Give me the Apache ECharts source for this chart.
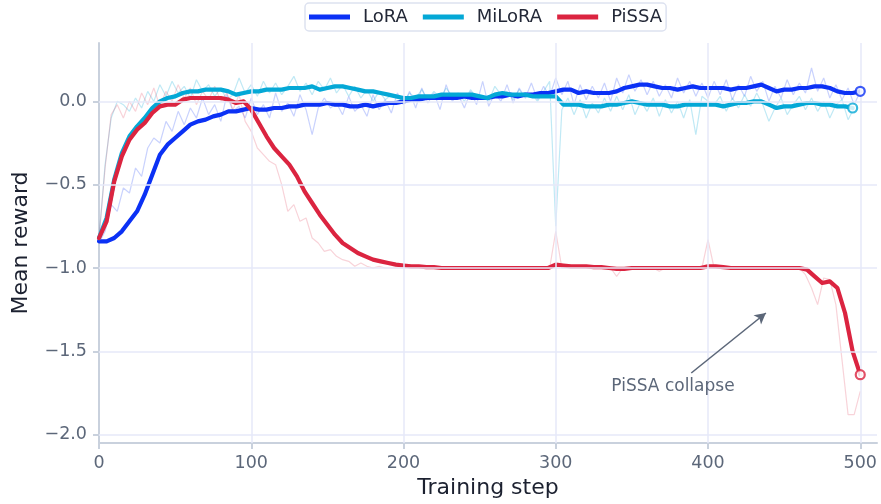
<!DOCTYPE html>
<html><head><meta charset="utf-8">
<script src="https://cdn.jsdelivr.net/npm/echarts@6/dist/echarts.min.js"></script>
<style>html,body{margin:0;padding:0;background:#fff}#c{width:881px;height:504px}</style>
</head><body><div id="c"></div>
<script>
// ---- data ----
const smoothStep = 5;   // smoothed curves sampled every 5 steps
const rawStep = 4;      // raw curves sampled every 4 steps
const seriesNames = ['LoRA', 'MiLoRA', 'PiSSA'];

const loraSmooth = [
 -0.84,-0.84,-0.82,-0.78,-0.72,-0.66,-0.56,-0.44,-0.32,-0.26,
 -0.22,-0.18,-0.14,-0.12,-0.11,-0.09,-0.08,-0.06,-0.06,-0.05,
 -0.04,-0.05,-0.05,-0.04,-0.04,-0.03,-0.03,-0.02,-0.02,-0.02,
 -0.01,-0.02,-0.02,-0.03,-0.03,-0.02,-0.03,-0.02,-0.01,-0.01,
 0.00,0.01,0.01,0.02,0.02,0.02,0.02,0.02,0.03,0.02,
 0.02,0.02,0.03,0.03,0.04,0.03,0.04,0.04,0.05,0.05,
 0.06,0.07,0.07,0.05,0.06,0.05,0.05,0.05,0.06,0.08,
 0.09,0.10,0.10,0.09,0.08,0.08,0.07,0.08,0.09,0.08,
 0.08,0.08,0.08,0.07,0.08,0.08,0.09,0.10,0.08,0.06,
 0.07,0.07,0.08,0.08,0.09,0.09,0.08,0.06,0.05,0.05,
 0.06];

const miloraSmooth = [
 -0.82,-0.70,-0.47,-0.31,-0.21,-0.15,-0.10,-0.04,0.00,0.02,
 0.03,0.05,0.06,0.06,0.07,0.07,0.07,0.06,0.04,0.05,
 0.06,0.06,0.07,0.07,0.07,0.08,0.08,0.08,0.09,0.07,
 0.08,0.09,0.09,0.08,0.07,0.06,0.06,0.05,0.04,0.03,
 0.02,0.02,0.03,0.03,0.03,0.04,0.04,0.04,0.04,0.04,
 0.03,0.02,0.04,0.05,0.04,0.04,0.04,0.03,0.03,0.03,
 0.03,-0.02,-0.02,-0.02,-0.03,-0.03,-0.03,-0.02,-0.02,-0.01,
 0.00,-0.01,-0.02,-0.02,-0.02,-0.03,-0.03,-0.02,-0.02,-0.02,
 -0.02,-0.02,-0.03,-0.02,-0.01,-0.01,0.00,0.00,-0.02,-0.04,
 -0.03,-0.03,-0.02,-0.01,-0.01,-0.02,-0.02,-0.03,-0.03,-0.04];

const pissaSmooth = [
 -0.82,-0.72,-0.48,-0.33,-0.23,-0.17,-0.13,-0.07,-0.03,-0.02,
 -0.02,0.01,0.02,0.02,0.02,0.02,0.02,0.01,-0.01,0.00,
 -0.05,-0.13,-0.21,-0.28,-0.33,-0.38,-0.45,-0.54,-0.61,-0.68,
 -0.74,-0.80,-0.85,-0.88,-0.91,-0.93,-0.95,-0.96,-0.97,-0.98,
 -0.985,-0.99,-0.99,
 -0.995,-0.995,-1.00,-1.00,-1.00,-1.00,-1.00,-1.00,-1.00,-1.00,
 -1.00,-1.00,-1.00,-1.00,-1.00,-1.00,-1.00,
 -0.98,-0.985,-0.99,-0.99,-0.99,-0.995,-0.995,-1.00,-1.005,-1.005,
 -1.00,-1.00,-1.00,-1.00,-1.00,-1.00,-1.00,-1.00,-1.00,-1.00,
 -0.99,-0.99,-0.995,
 -1.00,-1.00,-1.00,-1.00,-1.00,-1.00,-1.00,-1.00,-1.00,-1.00,
 -1.01,-1.05,-1.09,-1.08,-1.12,-1.27,-1.50,-1.64];

const loraRaw = [
 -0.85,-0.78,-0.62,-0.66,-0.52,-0.55,-0.40,-0.45,-0.28,-0.22,
 -0.25,-0.12,-0.18,-0.06,-0.14,-0.04,-0.10,0.02,-0.08,-0.02,
 -0.12,0.04,-0.06,-0.03,-0.10,0.02,-0.08,-0.02,-0.10,0.05,
 -0.06,-0.01,-0.09,0.04,-0.05,-0.20,-0.04,0.02,-0.04,-0.01,
 -0.08,0.03,-0.06,-0.02,-0.09,0.04,-0.05,0.01,-0.07,0.05,
 -0.02,0.06,-0.04,0.08,-0.01,0.05,-0.05,0.10,0.00,0.04,
 -0.04,0.06,-0.02,0.12,-0.03,0.05,0.00,0.10,-0.01,0.08,
 0.02,0.11,0.01,0.09,0.03,0.14,0.04,0.12,-0.02,0.10,
 0.01,0.09,0.02,0.11,0.00,0.14,0.05,0.16,0.06,0.13,
 0.04,0.12,0.03,0.10,0.02,0.14,0.05,0.12,0.03,0.11,
 0.02,0.12,0.04,0.13,0.01,0.10,0.03,0.15,0.06,0.12,
 0.00,0.09,0.02,0.13,0.04,0.11,0.05,0.20,0.06,0.14,
 0.02,0.10,0.01,0.08,-0.02,0.06];

const miloraRaw = [
 -0.82,-0.38,-0.10,0.00,-0.02,-0.06,0.02,-0.04,0.06,0.00,
 0.10,0.03,0.12,0.05,0.09,0.02,0.13,0.06,0.10,0.03,
 0.08,0.01,0.04,0.14,0.05,0.10,0.03,0.12,0.05,0.11,
 0.04,0.09,0.15,0.06,0.11,0.04,0.12,0.07,0.14,0.05,
 0.10,0.03,0.09,0.02,0.07,0.00,0.06,0.01,0.04,0.03,
 -0.01,0.05,0.02,0.07,0.01,0.06,0.02,0.08,0.03,0.05,
 0.00,0.07,0.02,0.03,0.00,0.09,0.04,0.06,0.01,0.07,
 0.02,0.05,0.00,0.06,0.12,-0.75,-0.05,0.02,-0.08,0.01,
 -0.10,-0.01,-0.07,0.02,-0.06,0.03,-0.05,0.04,-0.08,0.00,
 -0.06,0.02,-0.09,0.01,-0.07,0.00,-0.10,0.01,-0.20,0.03,
 0.00,-0.02,0.03,-0.06,0.02,-0.04,0.04,-0.03,0.05,-0.02,
 -0.12,-0.04,0.02,-0.08,-0.02,0.03,-0.05,0.02,-0.06,0.00,
 -0.10,-0.02,0.01,-0.11,-0.04];

const pissaRaw = [
 -0.82,-0.40,-0.08,-0.02,-0.10,0.00,-0.06,0.05,-0.02,0.08,
 -0.03,0.06,0.00,0.10,0.02,0.08,-0.02,0.06,0.01,0.09,
 0.00,0.05,-0.05,0.04,-0.12,-0.18,-0.28,-0.32,-0.36,-0.38,
 -0.50,-0.66,-0.62,-0.72,-0.70,-0.82,-0.85,-0.90,-0.89,-0.93,
 -0.95,-0.96,-0.99,-0.97,-0.99,-1.00,-0.99,-1.00,
 -1.00,-1.00,-1.00,-1.00,-1.00,-1.00,-1.00,-1.00,-1.00,-1.00,
 -1.00,-1.00,-1.00,-1.00,-1.00,-1.00,-1.00,-1.00,-1.00,-1.00,
 -1.00,-1.00,-1.00,-1.00,-1.00,-1.00,-1.00,
 -0.78,
 -1.00,-1.00,-1.00,-1.00,-1.00,-1.00,-1.00,-1.00,-1.00,
 -1.05,
 -1.00,-1.00,-1.00,-1.00,-1.00,-1.00,
 -1.02,
 -1.00,-1.00,-1.00,-1.00,-1.00,-1.00,-1.00,
 -0.83,
 -1.00,-1.00,-1.00,-1.00,-1.00,-1.00,-1.00,-1.00,-1.00,-1.00,
 -1.00,-1.00,-1.00,-1.00,-1.00,
 -1.04,-1.12,-1.22,-1.06,-1.07,-1.22,-1.55,-1.88,-1.88,-1.74];

const xTicks = [0, 100, 200, 300, 400, 500];
const yTicks = [-2, -1.5, -1, -0.5, 0];
const annotationText = 'PiSSA collapse';
const arrowFrom = [389, -1.63];
const arrowTo = [438, -1.27];
const annotationAt = [377, -1.71];

// ---- style ----
const FONT = 'DejaVu Sans';
const colors = { LoRA: '#0b31f5', MiLoRA: '#04a8d6', PiSSA: '#db2440' };
const rawColors = { LoRA: 'rgba(11,49,245,0.22)', MiLoRA: 'rgba(4,168,214,0.25)', PiSSA: 'rgba(219,36,64,0.2)' };
const axisColor = '#c9d1dd';
const gridColor = '#e6e9f8';
const tickText = '#5c6779';

const toPairs = (arr, step) => arr.map((v, i) => [i * step, v]);
const smooth = { LoRA: loraSmooth, MiLoRA: miloraSmooth, PiSSA: pissaSmooth };
const raw = { LoRA: loraRaw, MiLoRA: miloraRaw, PiSSA: pissaRaw };
const fmtY = v => (v < 0 ? '\u2212' : '') + Math.abs(v).toFixed(1);

const series = [];
series.push({
  name: 'grid', type: 'line', data: [], silent: true, z: 0,
  markLine: {
    silent: true, symbol: ['none', 'none'], animation: false,
    label: { show: false },
    lineStyle: { color: gridColor, width: 1.5, type: 'solid' },
    data: yTicks.map(v => ({ yAxis: v })).concat(xTicks.filter(v => v > 0).map(v => ({ xAxis: v })))
  }
});
seriesNames.forEach(n => {
  series.push({
    name: n + ' raw', type: 'line', data: toPairs(raw[n], rawStep), showSymbol: false, silent: true, z: 1,
    lineStyle: { color: rawColors[n], width: 1.2 }, itemStyle: { color: rawColors[n] }
  });
});
seriesNames.forEach(n => {
  series.push({
    name: n, type: 'line', data: toPairs(smooth[n], smoothStep), showSymbol: false, z: 3,
    lineStyle: { color: colors[n], width: 4.2, join: 'round', cap: 'round' }, itemStyle: { color: colors[n] }
  });
});
seriesNames.forEach(n => {
  const arr = smooth[n];
  series.push({
    name: n + ' end', type: 'scatter', z: 5, symbol: 'circle', symbolSize: 9,
    data: [[(arr.length - 1) * smoothStep, arr[arr.length - 1]]],
    itemStyle: { color: '#ffffff', borderColor: colors[n], borderWidth: 2.2 }
  });
});
series.push({
  name: 'annotation', type: 'line', data: [], silent: true, z: 6,
  markLine: {
    silent: true, animation: false, symbol: ['none', 'arrow'], symbolSize: [9, 11],
    label: { show: false },
    lineStyle: { color: '#5c6779', width: 1.6, type: 'solid' },
    data: [[{ coord: arrowFrom }, { coord: arrowTo }]]
  },
  markPoint: {
    silent: true, animation: false, symbol: 'circle', symbolSize: 1,
    itemStyle: { color: 'rgba(0,0,0,0)' },
    label: { show: true, position: 'inside', formatter: annotationText, fontSize: 17, color: '#5c6779', fontFamily: FONT },
    data: [{ coord: annotationAt }]
  }
});

const option = {
  animation: false,
  backgroundColor: '#ffffff',
  textStyle: { fontFamily: FONT },
  grid: { left: 99, right: 4, top: 43, bottom: 60 },
  legend: {
    data: seriesNames, left: 305, top: 3, icon: 'rect', itemWidth: 41, itemHeight: 5, itemGap: 15,
    padding: [5, 4, 5, 4], borderColor: '#dde2f0', borderWidth: 1.5, borderRadius: 4,
    textStyle: { fontSize: 18, color: '#232837', fontFamily: FONT, padding: [0, 0, 0, 8] }
  },
  xAxis: {
    type: 'value', min: 0, max: 511,
    name: 'Training step', nameLocation: 'middle', nameGap: 34,
    nameTextStyle: { fontSize: 22, color: '#1c2130', fontFamily: FONT },
    axisLine: { show: true, onZero: false, lineStyle: { color: axisColor, width: 2 } },
    axisTick: { show: true, length: 6, customValues: xTicks, lineStyle: { color: axisColor, width: 2 } },
    axisLabel: { customValues: xTicks, fontSize: 17.5, color: tickText, margin: 11 },
    splitLine: { show: false }
  },
  yAxis: {
    type: 'value', min: -2.05, max: 0.35,
    name: 'Mean reward', nameLocation: 'middle', nameGap: 67,
    nameTextStyle: { fontSize: 22, color: '#1c2130', fontFamily: FONT },
    axisLine: { show: true, onZero: false, lineStyle: { color: axisColor, width: 2 } },
    axisTick: { show: true, length: 6, customValues: yTicks, lineStyle: { color: axisColor, width: 2 } },
    axisLabel: { customValues: yTicks, fontSize: 17.5, color: tickText, margin: 12, formatter: fmtY },
    splitLine: { show: false }
  },
  series: series
};
const chart = echarts.init(document.getElementById('c'));
chart.setOption(option);
</script>
</body></html>
